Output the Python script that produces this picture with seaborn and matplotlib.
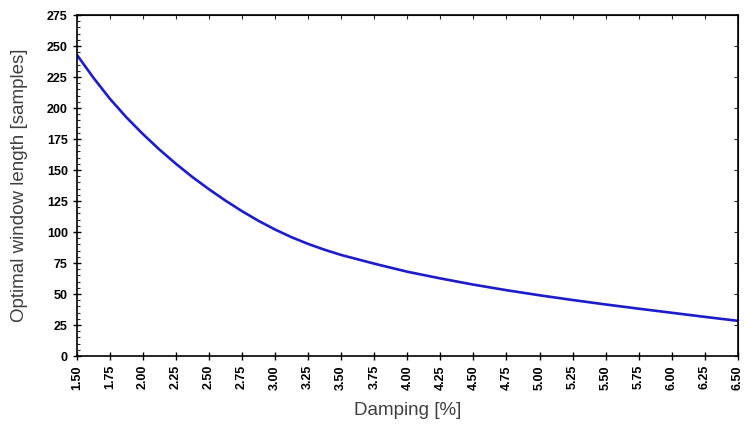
import numpy as np
import pandas as pd
import matplotlib
matplotlib.use("Agg")
import matplotlib.pyplot as plt
from matplotlib.ticker import MultipleLocator, FormatStrFormatter
import seaborn as sns

damping = [1.50, 1.625, 1.75, 1.875, 2.00, 2.125, 2.25, 2.375, 2.50, 2.625,
           2.75, 2.875, 3.00, 3.125, 3.25, 3.375, 3.50, 3.75, 4.00,
           4.25, 4.50, 4.75, 5.00, 5.25, 5.50, 5.75, 6.00, 6.25, 6.50]
window_length = [243, 224.5, 207.5, 192.5, 179, 166.5, 155, 144.3, 134.5, 125.3,
                 116.8, 109, 102, 95.8, 90.4, 85.7, 81.5, 74.5, 68,
                 62.6, 57.6, 53.1, 49, 45.2, 41.6, 38.2, 34.9, 31.6, 28.4]
x_ticks = [1.50, 1.75, 2.00, 2.25, 2.50, 2.75, 3.00, 3.25, 3.50, 3.75, 4.00,
           4.25, 4.50, 4.75, 5.00, 5.25, 5.50, 5.75, 6.00, 6.25, 6.50]

df = pd.DataFrame({"damping": damping, "window": window_length})

sns.set_style("ticks")
plt.rcParams["font.family"] = ["Liberation Sans", "DejaVu Sans"]

fig = plt.figure(figsize=(7.46, 4.30), dpi=100)
ax = fig.add_axes([0.103, 0.172, 0.886, 0.793])

sns.lineplot(data=df, x="damping", y="window", ax=ax, color="#1c1ccc",
             linewidth=1.9, sort=True)

ax.set_xlim(1.5, 6.5)
ax.set_ylim(0, 275)
ax.set_xticks(x_ticks)
ax.xaxis.set_major_formatter(FormatStrFormatter("%.2f"))
ax.yaxis.set_major_locator(MultipleLocator(25))
ax.yaxis.set_minor_locator(MultipleLocator(5))

for lbl in ax.get_xticklabels():
    lbl.set_rotation(90)
ax.tick_params(axis="both", which="major", direction="inout", length=6,
               width=1, labelsize=9, colors="black")
ax.tick_params(axis="y", which="minor", direction="in", length=2.5, width=0.8)
for lbl in ax.get_xticklabels() + ax.get_yticklabels():
    lbl.set_fontweight("bold")

ax.set_xlabel("Damping [%]", fontsize=13.5, color="#404040")
ax.set_ylabel("Optimal window length [samples]", fontsize=13.5,
              color="#404040")
ax.xaxis.set_label_coords(0.5, -0.135)
ax.yaxis.set_label_coords(-0.074, 0.5)

for s in ax.spines.values():
    s.set_visible(True)
    s.set_linewidth(1.2)
    s.set_color("black")

top = ax.secondary_xaxis("top")
top.set_xticks(x_ticks)
top.tick_params(direction="in", length=3, labeltop=False)
right = ax.secondary_yaxis("right")
right.yaxis.set_major_locator(MultipleLocator(25))
right.tick_params(direction="in", length=3, labelright=False)

fig.savefig("out.png", dpi=100)
